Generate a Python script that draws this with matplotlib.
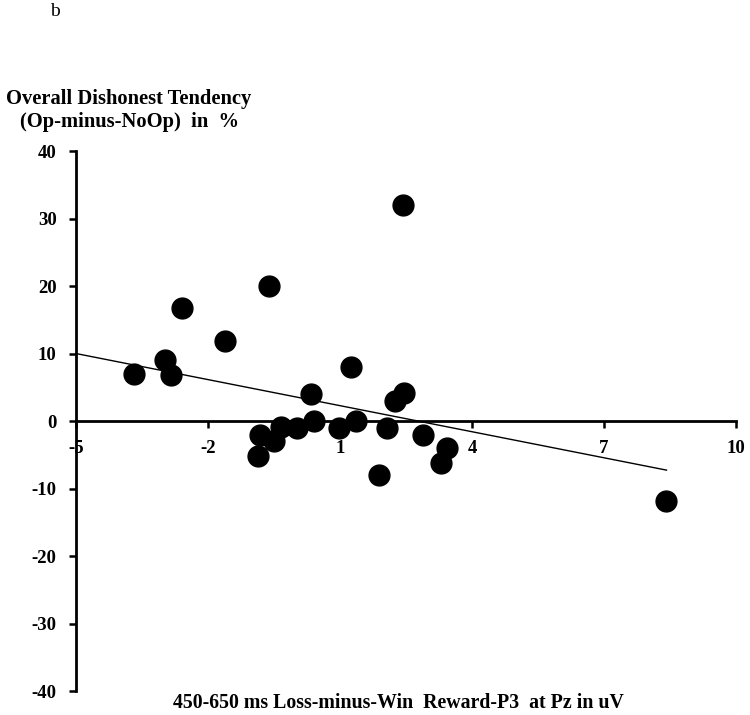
import numpy as np
import matplotlib
matplotlib.use('Agg')
import matplotlib.pyplot as plt

# P3 amplitude difference (uV) vs dishonest tendency (%)
p3_diff = [-3.69, -2.97, -2.85, -2.58, -1.61, -0.61, 1.24, 0.34, 2.46, 2.25,
           -0.82, -0.86, -0.49, -0.35, 0.02, 0.42, 0.98, 1.36, 2.06, 1.89,
           2.88, 3.43, 3.29, 2.43, 8.42]
dishonest = [6.9, 9.0, 6.8, 16.8, 11.9, 20.0, 8.0, 4.0, 4.1, 2.9,
             -2.0, -5.2, -3.0, -0.9, -1.0, 0.0, -1.0, 0.0, -1.0, -8.0,
             -2.0, -4.0, -6.2, 32.0, -11.9]
# trend line as shown in the figure
trend_slope = -1.287
trend_intercept = 3.56
xticks = [-5, -2, 1, 4, 7, 10]
yticks = [-40, -30, -20, -10, 0, 10, 20, 30, 40]

plt.rcParams['font.family'] = ['Liberation Serif', 'DejaVu Serif']
plt.rcParams['axes.unicode_minus'] = False

fig = plt.figure(figsize=(7.5, 7.15), dpi=100)
ax = fig.add_axes([76 / 750, 1 - 691 / 715, 660 / 750, 540 / 715])

x = np.array(p3_diff)
y = np.array(dishonest)
ax.plot(x, y, 'o', color='black', markersize=15, zorder=3, clip_on=False)

xl = np.array([-5, x.max()])
ax.plot(xl, trend_slope * xl + trend_intercept, color='black', linewidth=1,
        zorder=2.6)

ax.set_xlim(-5, 10)
ax.set_ylim(-40, 40)
ax.set_xticks(xticks)
ax.set_yticks(yticks)

ax.spines['top'].set_visible(False)
ax.spines['right'].set_visible(False)
ax.spines['bottom'].set_position(('data', 0))
ax.spines['left'].set_linewidth(2)
ax.spines['bottom'].set_linewidth(2)
ax.tick_params(axis='both', direction='out', length=5, width=1.8,
               labelsize=13.5)
ax.tick_params(axis='y', pad=9)
ax.tick_params(axis='x', pad=9)
for lbl in ax.get_xticklabels() + ax.get_yticklabels():
    lbl.set_fontweight('bold')

fig.text(129 / 750, 1 - 99 / 715, 'Overall Dishonest Tendency', ha='center',
         va='center', fontsize=14.8, fontweight='bold')
fig.text(129 / 750, 1 - 122 / 715, '(Op-minus-NoOp)  in  %', ha='center',
         va='center', fontsize=14.8, fontweight='bold')
fig.text(398 / 750, 1 - 703 / 715,
         '450-650 ms Loss-minus-Win  Reward-P3  at Pz in uV', ha='center',
         va='center', fontsize=14.3, fontweight='bold')
fig.text(55 / 750, 1 - 12 / 715, 'b', ha='center', va='center', fontsize=14)

plt.savefig('out.png', dpi=100)
